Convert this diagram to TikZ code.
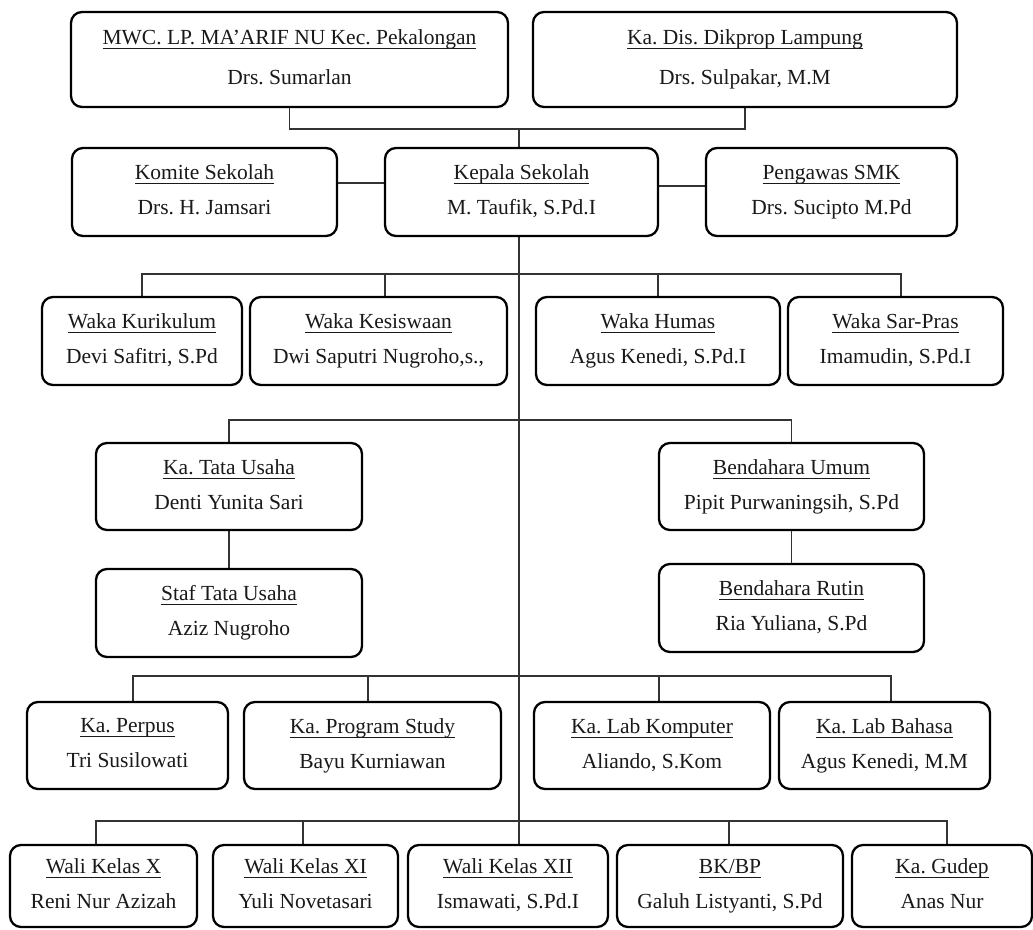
\documentclass[tikz,border=0pt]{standalone}
\usepackage{fontspec}
\setmainfont{Liberation Serif}
\usetikzlibrary{backgrounds}
\frenchspacing
\newcommand\ulfix[1]{\underline{\raisebox{0pt}[\height][2.5pt]{#1}}}
\tikzset{
  obox/.style={draw=black, line width=2.3pt, rounded corners=11pt, fill=white,
    inner sep=0pt, align=center, text=black!90,
    font=\fontsize{21.5pt}{35pt}\selectfont},
  topbox/.style={font=\fontsize{21.5pt}{40pt}\selectfont},
  conn/.style={draw=black!80, line width=1.5pt}
}
\newcommand\orgbox[8]{%
  \node[obox,#8,minimum width={(#4-#2)*1pt},minimum height={(#5-#3)*1pt}]
    (#1) at ({(#2+#4)/2},{(#3+#5)/2}) {\frenchspacing\vphantom{Ag}\ulfix{#6}\\\vphantom{Agy}#7};}
\begin{document}
\begin{tikzpicture}[x=1pt,y=-1pt]
\useasboundingbox (0,0) rectangle (1033,929);
% top
\orgbox{mwc}{71}{12}{508}{107}{MWC. LP. MA’ARIF NU Kec. Pekalongan}{Drs. Sumarlan}{topbox}
\orgbox{dis}{533}{12}{957}{107}{Ka. Dis. Dikprop Lampung}{Drs. Sulpakar, M.M}{topbox}
% second row
\orgbox{kom}{72}{148}{337}{236}{Komite Sekolah}{Drs. H. Jamsari}{}
\orgbox{kep}{385}{148}{658}{236}{Kepala Sekolah}{M. Taufik, S.Pd.I}{}
\orgbox{pen}{706}{148}{957}{236}{Pengawas SMK}{Drs. Sucipto M.Pd}{}
% waka row
\orgbox{wkur}{42}{297}{242}{385}{Waka Kurikulum}{Devi Safitri, S.Pd}{}
\orgbox{wkes}{250}{297}{507}{385}{Waka Kesiswaan}{Dwi Saputri Nugroho,s.,}{}
\orgbox{whum}{536}{297}{780}{385}{Waka Humas}{Agus Kenedi, S.Pd.I}{}
\orgbox{wsar}{788}{297}{1003}{385}{Waka Sar-Pras}{Imamudin, S.Pd.I}{}
% TU / bendahara
\orgbox{ktu}{96}{443}{362}{530}{Ka. Tata Usaha}{Denti Yunita Sari}{}
\orgbox{stu}{96}{569}{362}{657}{Staf Tata Usaha}{Aziz Nugroho}{}
\orgbox{bu}{659}{443}{924}{530}{Bendahara Umum}{Pipit Purwaningsih, S.Pd}{}
\orgbox{br}{659}{564}{924}{652}{Bendahara Rutin}{Ria Yuliana, S.Pd}{}
% ka row
\orgbox{kp}{27}{702}{228}{789}{Ka. Perpus}{Tri Susilowati}{}
\orgbox{kps}{244}{702}{501}{789}{Ka. Program Study}{Bayu Kurniawan}{}
\orgbox{klk}{534}{702}{770}{789}{Ka. Lab Komputer}{Aliando, S.Kom}{}
\orgbox{klb}{779}{702}{990}{789}{Ka. Lab Bahasa}{Agus Kenedi, M.M}{}
% wali row
\orgbox{w10}{10}{845}{197}{927}{Wali Kelas X}{Reni Nur Azizah}{}
\orgbox{w11}{213}{845}{398}{927}{Wali Kelas XI}{Yuli Novetasari}{}
\orgbox{w12}{408}{845}{608}{927}{Wali Kelas XII}{Ismawati, S.Pd.I}{}
\orgbox{bk}{617}{845}{843}{927}{BK/BP}{Galuh Listyanti, S.Pd}{}
\orgbox{gud}{852}{845}{1032}{927}{Ka. Gudep}{Anas Nur}{}
\coordinate (hub) at (519,128);
\begin{scope}[on background layer]
  % top bus
  \draw[conn] (mwc.south) -- ++(0,21) -| (dis.south);
  % central spine
  \draw[conn] (hub) -- ([xshift=11pt]w12.north);
  % side links
  \draw[conn] ([yshift=9pt]kom.east) -- ([yshift=9pt]kep.west);
  \draw[conn] ([yshift=6pt]kep.east) -- ([yshift=6pt]pen.west);
  % waka bus
  \draw[conn] (wkur.north) -- ++(0,-22) -| ([xshift=5.5pt]wsar.north);
  \draw[conn] ([xshift=6.5pt]wkes.north) -- ++(0,-22);
  \draw[conn] (whum.north) -- ++(0,-22);
  % TU / bendahara bus
  \draw[conn] (ktu.north) -- ++(0,-22) -| (bu.north);
  \draw[conn] (ktu.south) -- (stu.north);
  \draw[conn] (bu.south) -- (br.north);
  % ka bus
  \draw[conn] ([xshift=5.5pt]kp.north) -- ++(0,-25) -| ([xshift=6.5pt]klb.north);
  \draw[conn] ([xshift=-4.5pt]kps.north) -- ++(0,-25);
  \draw[conn] ([xshift=7pt]klk.north) -- ++(0,-25);
  % wali bus
  \draw[conn] ([xshift=-7.5pt]w10.north) -- ++(0,-23) -| ([xshift=5pt]gud.north);
  \draw[conn] ([xshift=-2.5pt]w11.north) -- ++(0,-23);
  \draw[conn] ([xshift=-1pt]bk.north) -- ++(0,-23);
\end{scope}
\end{tikzpicture}
\end{document}
